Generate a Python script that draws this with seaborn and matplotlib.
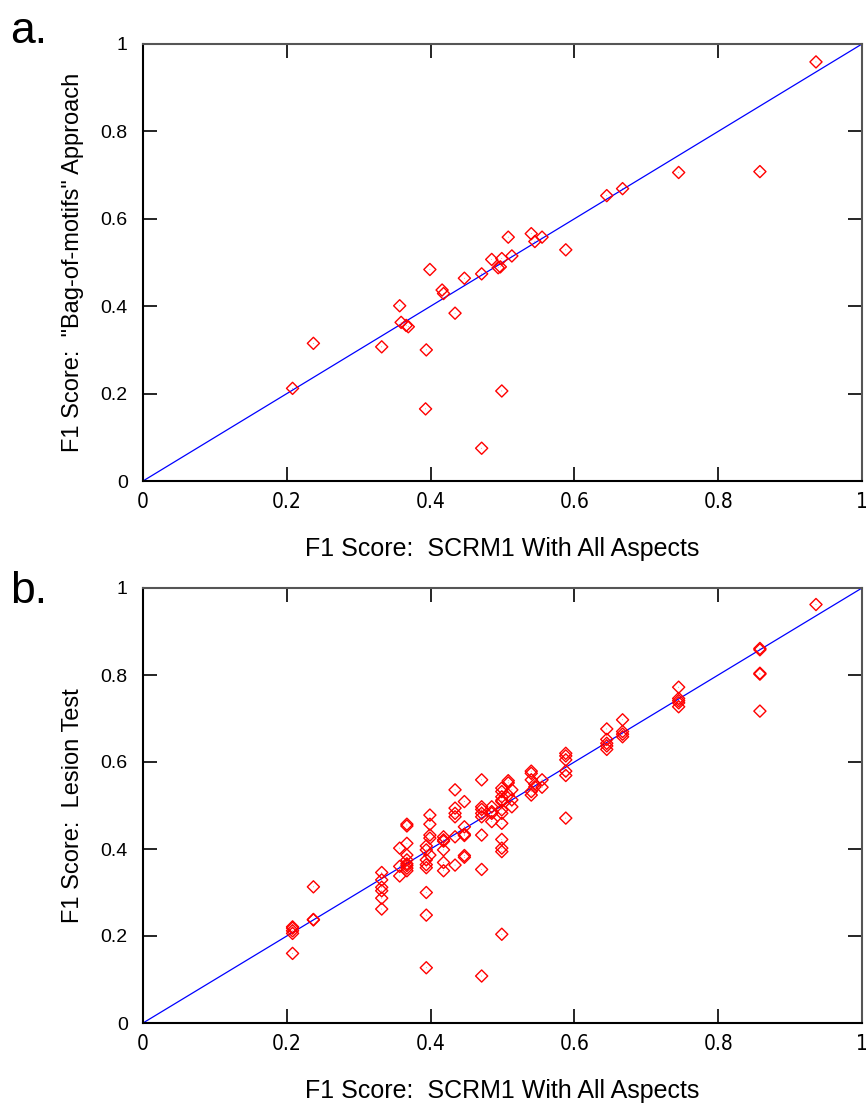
import matplotlib
matplotlib.use("Agg")
import matplotlib.pyplot as plt
import seaborn as sns
import pandas as pd

# panel a: SCRM1 (all aspects) vs bag-of-motifs
scrm_a = [0.936, 0.858, 0.745, 0.667, 0.645, 0.588, 0.555, 0.540, 0.545, 0.508,
          0.513, 0.499, 0.497, 0.485, 0.494, 0.471, 0.447, 0.399, 0.416, 0.418,
          0.434, 0.357, 0.359, 0.366, 0.369, 0.332, 0.394, 0.499, 0.393, 0.471,
          0.208, 0.237]
bag_a = [0.959, 0.708, 0.706, 0.669, 0.653, 0.529, 0.558, 0.566, 0.548, 0.558,
         0.515, 0.509, 0.490, 0.507, 0.488, 0.474, 0.464, 0.484, 0.437, 0.429,
         0.384, 0.401, 0.363, 0.356, 0.353, 0.307, 0.300, 0.206, 0.165, 0.075,
         0.212, 0.315]

# panel b: SCRM1 (all aspects) vs lesion test, grouped by x column
lesion_b = {
    0.208: [0.221, 0.218, 0.212, 0.206, 0.160],
    0.237: [0.313, 0.238, 0.237],
    0.332: [0.346, 0.329, 0.312, 0.304, 0.287, 0.262],
    0.357: [0.402, 0.360, 0.338],
    0.367: [0.457, 0.453, 0.413, 0.386, 0.375, 0.366, 0.362, 0.356, 0.350],
    0.394: [0.407, 0.398, 0.375, 0.364, 0.357, 0.300, 0.248, 0.127],
    0.399: [0.478, 0.457, 0.432, 0.425, 0.386],
    0.418: [0.428, 0.421, 0.418, 0.398, 0.369, 0.350],
    0.434: [0.536, 0.494, 0.482, 0.474, 0.428, 0.363],
    0.447: [0.509, 0.451, 0.434, 0.431, 0.385, 0.381],
    0.471: [0.559, 0.497, 0.491, 0.482, 0.474, 0.432, 0.353, 0.108],
    0.485: [0.497, 0.486, 0.482, 0.463],
    0.499: [0.540, 0.532, 0.520, 0.512, 0.509, 0.490, 0.482, 0.459, 0.422,
            0.402, 0.394, 0.204],
    0.508: [0.557, 0.552, 0.524],
    0.513: [0.536, 0.513, 0.497],
    0.540: [0.579, 0.574, 0.559, 0.532, 0.524],
    0.545: [0.549, 0.543],
    0.555: [0.559, 0.542],
    0.588: [0.620, 0.614, 0.605, 0.579, 0.569, 0.471],
    0.645: [0.676, 0.652, 0.643, 0.637, 0.629],
    0.667: [0.697, 0.670, 0.664, 0.658],
    0.745: [0.772, 0.746, 0.741, 0.736, 0.727],
    0.858: [0.861, 0.858, 0.804, 0.802, 0.717],
    0.936: [0.962],
}

ticks = [0, 0.2, 0.4, 0.6, 0.8, 1]
tick_labels = ["0", "0.2", "0.4", "0.6", "0.8", "1"]
diag = [0, 1]

df_a = pd.DataFrame({"x": scrm_a, "y": bag_a})
df_b = pd.DataFrame([(k, v) for k, vals in lesion_b.items() for v in vals],
                    columns=["x", "y"])

sns.set_style("ticks")
plt.rcParams["font.family"] = ["Liberation Sans", "DejaVu Sans"]
plt.rcParams["text.color"] = "black"
plt.rcParams["axes.labelcolor"] = "black"
plt.rcParams["xtick.color"] = "black"
plt.rcParams["ytick.color"] = "black"

fig = plt.figure(figsize=(8.66, 11.04), dpi=100)
ax_a = fig.add_axes([143 / 866, 1 - 481 / 1104, 719 / 866, 437 / 1104])
ax_b = fig.add_axes([143 / 866, 1 - 1023 / 1104, 719 / 866, 435 / 1104])


def draw_panel(ax, df, ylabel):
    sns.lineplot(x=diag, y=diag, ax=ax, color="#0000ff", linewidth=0.9, zorder=1)
    sns.scatterplot(data=df, x="x", y="y", ax=ax, marker="D", s=38,
                    facecolor="none", edgecolor="#ff0000", linewidth=1.0,
                    zorder=3)
    sns.scatterplot(data=df, x="x", y="y", ax=ax, marker=".", s=1,
                    color="#ff0000", edgecolor="none", zorder=3)
    ax.set_xlim(0, 1)
    ax.set_ylim(0, 1)
    ax.set_xticks(ticks)
    ax.set_yticks(ticks)
    ax.set_xticklabels(tick_labels, family="DejaVu Sans", stretch="condensed",
                       fontsize=15)
    ax.set_yticklabels(tick_labels, fontsize=14)
    ax.tick_params(direction="in", length=10, width=1.2, top=True, right=True,
                   pad=8)
    ax.tick_params(axis="y", pad=11)
    for t in ax.yaxis.get_ticklines()[1::2]:
        t.set_color("#666666")
    for side in ["left", "bottom"]:
        ax.spines[side].set_linewidth(1.5)
        ax.spines[side].set_color("black")
    for side in ["top", "right"]:
        ax.spines[side].set_linewidth(1.5)
        ax.spines[side].set_color("#555555")
    ax.set_xlabel("F1 Score:  SCRM1 With All Aspects", fontsize=18,
                  labelpad=18)
    ax.set_ylabel(ylabel, fontsize=17, labelpad=12)


draw_panel(ax_a, df_a, 'F1 Score:  "Bag-of-motifs" Approach')
draw_panel(ax_b, df_b, "F1 Score:  Lesion Test")

fig.text(10 / 866, 1 - 43 / 1104, "a.", fontsize=32, ha="left", va="baseline")
fig.text(10 / 866, 1 - 603 / 1104, "b.", fontsize=32, ha="left", va="baseline")

fig.savefig("out.png", dpi=100)
